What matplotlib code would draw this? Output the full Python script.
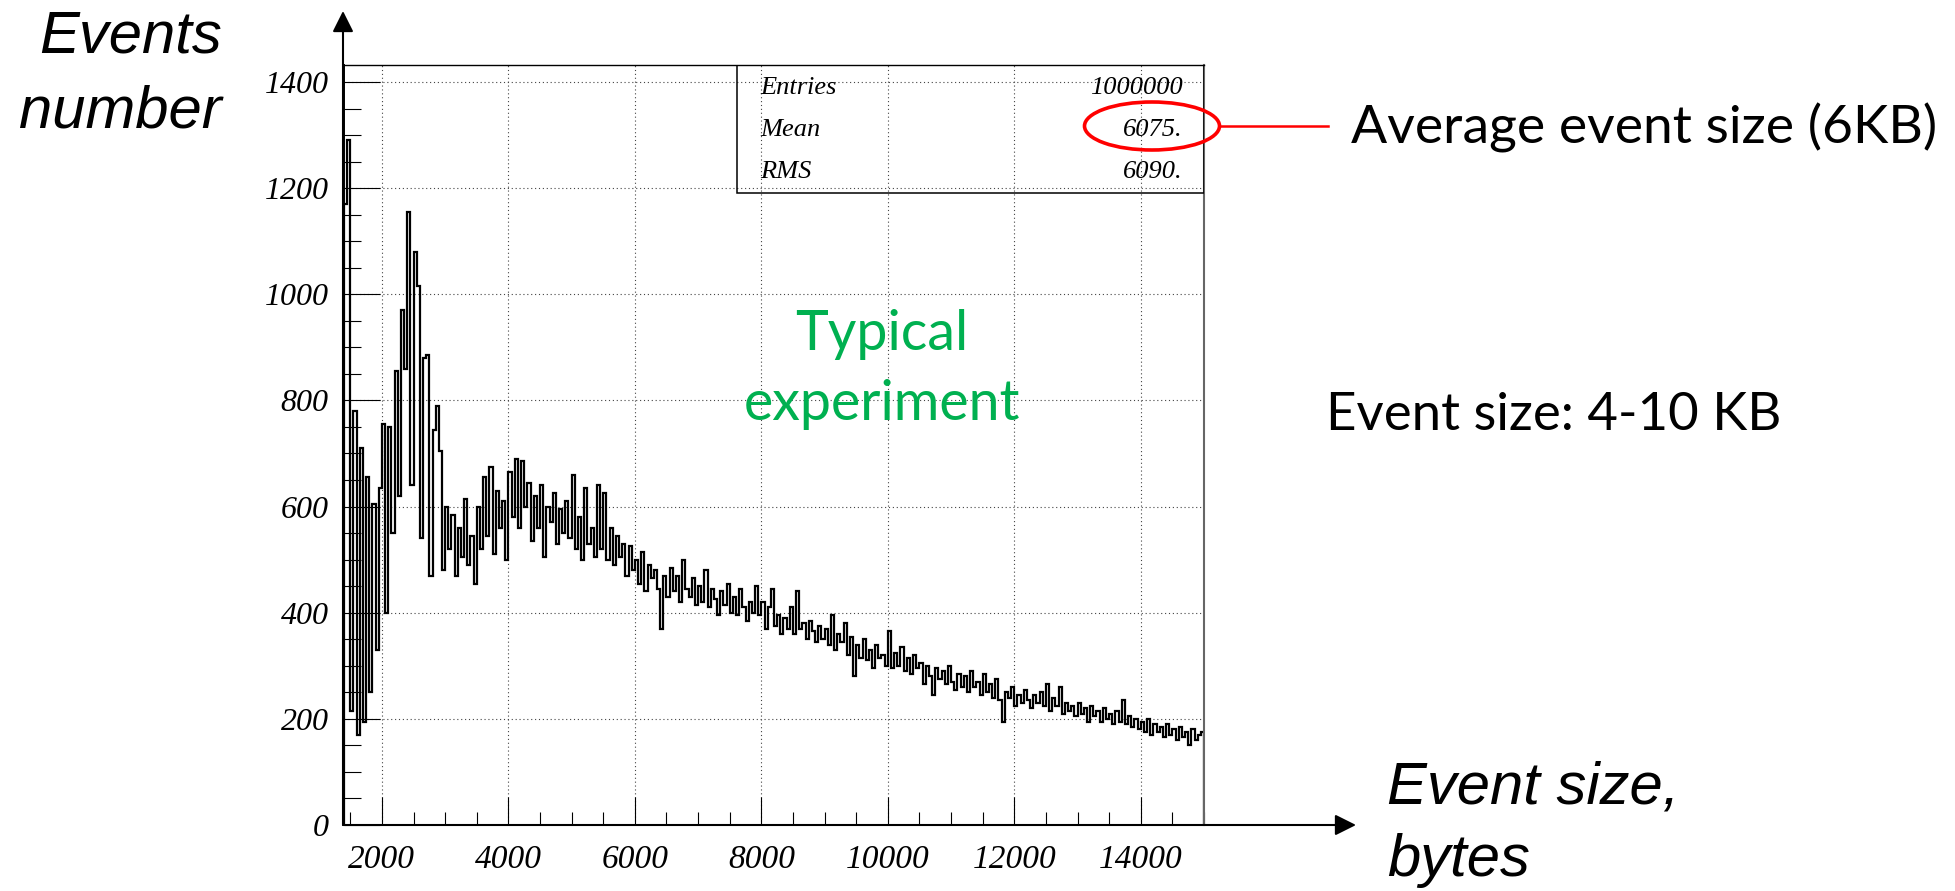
import matplotlib
matplotlib.use("Agg")
import matplotlib.pyplot as plt
import numpy as np
from matplotlib.ticker import MultipleLocator
from matplotlib.patches import Ellipse, Rectangle

# histogram: 50-byte bins from 1400 to 15000 bytes
bin_start = 1400
bin_width = 50
counts = [
    1170, 1290, 215, 780, 170, 710, 195, 655, 250, 605,      # 1400
    330, 635, 755, 400, 750, 550, 855, 620, 970, 860,        # 1900
    1155, 640, 1080, 1015, 540, 880, 885, 470, 745, 790,     # 2400
    705, 480, 600, 520, 585, 470, 560, 505, 615, 490,        # 2900
    545, 455, 600, 520, 655, 545, 675, 510, 630, 560,        # 3400
    610, 500, 665, 580, 690, 560, 685, 600, 645, 535,        # 3900
    620, 560, 640, 505, 600, 570, 625, 530, 595, 550,        # 4400
    610, 540, 660, 520, 580, 500, 635, 530, 560, 505,        # 4900
    640, 520, 625, 500, 560, 490, 545, 505, 530, 470,        # 5400
    525, 480, 500, 455, 515, 440, 490, 465, 480, 445,        # 5900
    370, 470, 430, 485, 440, 470, 420, 500, 445, 430,        # 6400
    465, 415, 450, 420, 480, 410, 445, 425, 395, 440,        # 6900
    415, 455, 400, 430, 395, 445, 410, 385, 420, 400,        # 7400
    450, 395, 420, 370, 410, 445, 375, 395, 360, 390,        # 7900
    370, 410, 360, 440, 370, 380, 350, 385, 365, 345,        # 8400
    375, 350, 370, 340, 395, 330, 360, 345, 380, 320,        # 8900
    355, 280, 340, 315, 350, 310, 330, 295, 340, 315,        # 9400
    320, 300, 365, 295, 325, 300, 335, 290, 315, 285,        # 9900
    320, 295, 305, 265, 300, 280, 245, 295, 275, 290,        # 10400
    265, 300, 270, 255, 285, 260, 280, 250, 290, 260,        # 10900
    270, 245, 285, 250, 265, 240, 275, 235, 195, 250,        # 11400
    240, 260, 225, 245, 230, 255, 235, 220, 245, 230,        # 11900
    250, 225, 265, 215, 240, 225, 260, 210, 230, 215,        # 12400
    225, 205, 230, 210, 220, 195, 225, 205, 215, 195,        # 12900
    220, 200, 210, 190, 215, 195, 235, 190, 205, 185,        # 13400
    200, 180, 195, 175, 200, 170, 190, 175, 185, 165,        # 13900
    190, 170, 180, 160, 185, 165, 175, 150, 180, 160,        # 14400
    170, 175,                                                # 14900
]
stat_names = ["Entries", "Mean", "RMS"]
stat_values = ["1000000", "6075.", "6090."]

W, H = 1956, 891
fig = plt.figure(figsize=(W / 100, H / 100), dpi=100)
ax = fig.add_axes([344 / W, 1 - 825 / H, 860 / W, 760 / H])

edges = bin_start + bin_width * np.arange(len(counts) + 1)
ax.stairs(counts, edges, color="black", lw=1.6, baseline=0)

ax.set_xlim(1400, 15000)
ax.set_ylim(0, 1432)
ax.xaxis.set_major_locator(MultipleLocator(2000))
ax.xaxis.set_minor_locator(MultipleLocator(500))
ax.yaxis.set_major_locator(MultipleLocator(200))
ax.yaxis.set_minor_locator(MultipleLocator(50))
ax.grid(True, which="major", ls=(0, (1, 2.5)), color="#444", lw=0.8)
ax.set_axisbelow(True)

tickfont = dict(family="Liberation Serif", style="italic")
ax.tick_params(axis="y", which="major", direction="in", length=26, width=0.8, pad=11)
ax.tick_params(axis="y", which="minor", direction="in", length=12, width=0.8)
ax.tick_params(axis="x", which="major", direction="in", length=20, width=0.8, pad=14)
ax.tick_params(axis="x", which="minor", direction="in", length=9.5, width=0.8)
for lab in ax.get_yticklabels():
    lab.set_fontfamily("Liberation Serif"); lab.set_fontstyle("italic"); lab.set_fontsize(23)
for lab in ax.get_xticklabels():
    lab.set_fontfamily("Liberation Serif"); lab.set_fontstyle("italic"); lab.set_fontsize(24)

for sp in ["left", "bottom"]:
    ax.spines[sp].set_linewidth(1.4)
ax.spines["top"].set_linewidth(1.0)
ax.spines["right"].set_linewidth(1.5)
ax.spines["right"].set_color("#666")

# stats box
box_x0 = (737 - 344) / 860
box_y0 = (825 - 193) / 760
ax.add_patch(Rectangle((box_x0, box_y0), 1 - box_x0, 1 - box_y0, transform=ax.transAxes,
                       fill=False, ec="black", lw=1.1, zorder=5))
for i, (n, v) in enumerate(zip(stat_names, stat_values)):
    yy = 1 - (88 + 42 * i - 65) / 760
    ax.text((760 - 344) / 860, yy, n, transform=ax.transAxes, ha="left", va="center",
            fontsize=19, **tickfont)
    ax.text((1183 - 344) / 860, yy, v, transform=ax.transAxes, ha="right", va="center",
            fontsize=19, **tickfont)

# overlay in pixel coordinates for arrows and annotations
ov = fig.add_axes([0, 0, 1, 1])
ov.set_xlim(0, W); ov.set_ylim(H, 0); ov.axis("off")
arrow = dict(arrowstyle="-|>", lw=1.5, color="black", mutation_scale=32, shrinkA=0, shrinkB=0)
ov.annotate("", xy=(343, 11), xytext=(343, 825), arrowprops=arrow)
ov.annotate("", xy=(1356, 825), xytext=(343, 825), arrowprops=arrow)

sans_it = dict(family="Liberation Sans", style="italic", fontsize=43)
ov.text(222, 37, "Events", ha="right", va="center", **sans_it)
ov.text(222, 112, "number", ha="right", va="center", **sans_it)
ov.text(1387, 788, "Event size,", ha="left", va="center", **sans_it)
ov.text(1387, 861, "bytes", ha="left", va="center", **sans_it)

ov.text(1351, 128, "Average event size (6KB)", ha="left", va="center", family="Lato", fontsize=38.5)
ov.text(1326, 415, "Event size: 4-10 KB", ha="left", va="center", family="Lato", fontsize=38)
ov.text(882, 334, "Typical", ha="center", va="center", color="#00B050", family="Lato", fontsize=40)
ov.text(882, 405, "experiment", ha="center", va="center", color="#00B050", family="Lato", fontsize=40)

ov.add_patch(Ellipse((1152, 126), 135, 48, fill=False, ec="red", lw=2.6))
ov.plot([1220, 1328], [126, 126], color="red", lw=1.8)

fig.savefig("out.png", dpi=100, facecolor="white")
